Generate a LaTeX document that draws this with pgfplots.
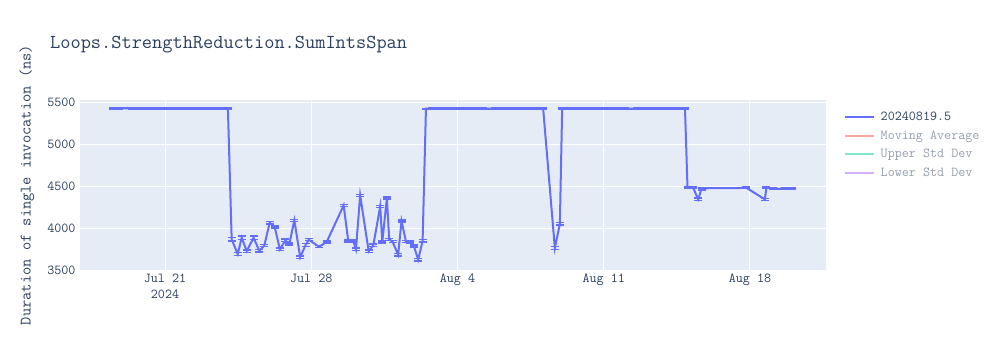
\documentclass[border=0pt]{standalone}
\usepackage{pgfplots}
\pgfplotsset{compat=1.18}
\usepackage{pgfplotstable}
\usepackage{fontspec}
\definecolor{plotbg}{HTML}{E5ECF6}
\definecolor{txt}{HTML}{2A3F5F}
\definecolor{fadetxt}{HTML}{959FAF}
\definecolor{main}{HTML}{636EFA}
\definecolor{maF}{HTML}{F7AA9D}
\definecolor{upF}{HTML}{80E6CB}
\definecolor{loF}{HTML}{D5B1FD}

\pgfplotstableread{
x y e
-2.49 5432 5
-2.20 5431 5
-1.90 5433 5
-1.60 5430 5
-1.30 5432 5
-1.00 5431 5
-0.70 5430 5
-0.40 5432 5
-0.10 5431 5
0.20 5430 5
0.50 5432 5
0.80 5431 5
1.10 5430 5
1.40 5431 5
1.70 5432 5
2.00 5430 5
2.30 5431 5
2.60 5432 5
2.85 5431 5
3.01 5429 5
3.19 3867 20
3.48 3691 20
3.67 3886 20
3.91 3727 15
4.24 3886 20
4.51 3731 15
4.75 3790 12
5.01 4066 15
5.25 4014 12
5.50 3747 15
5.76 3855 15
5.95 3811 12
6.19 4094 12
6.47 3652 15
6.73 3799 20
6.88 3862 12
7.37 3778 12
7.74 3835 12
8.55 4273 12
8.77 3847 12
9.01 3847 12
9.14 3747 15
9.34 4393 12
9.75 3723 15
9.97 3795 15
10.30 4261 12
10.40 3835 12
10.62 4361 12
10.73 3867 12
10.89 3839 12
11.16 3683 15
11.32 4086 12
11.53 3843 12
11.72 3835 12
11.91 3787 12
12.12 3623 15
12.33 3847 15
12.49 5428 5
12.80 5430 5
13.10 5431 5
13.40 5430 5
13.70 5432 5
14.00 5431 5
14.30 5430 5
14.60 5431 5
14.90 5432 5
15.20 5430 5
15.50 5428 5
15.80 5431 5
16.10 5430 5
16.40 5429 5
16.70 5431 5
17.00 5430 5
17.30 5431 5
17.60 5430 5
17.90 5431 5
18.10 5430 5
18.66 3763 15
18.90 4050 15
19.01 5430 5
19.30 5431 5
19.60 5430 5
19.90 5431 5
20.20 5430 5
20.50 5431 5
20.80 5432 5
21.10 5430 5
21.40 5431 5
21.70 5430 5
22.00 5431 5
22.30 5428 5
22.60 5430 5
22.90 5431 5
23.20 5430 5
23.50 5432 5
23.80 5431 5
24.10 5430 5
24.40 5431 5
24.70 5430 5
24.89 5431 5
25.01 4484 8
25.28 4484 8
25.52 4345 15
25.68 4468 10
26.00 4478 5
26.30 4479 5
26.60 4480 5
26.90 4478 5
27.20 4479 5
27.50 4480 5
27.83 4482 8
28.71 4345 12
28.79 4484 8
29.10 4476 5
29.40 4470 5
29.70 4476 5
29.99 4475 5
}\maindata

\begin{document}
\begin{tikzpicture}
\useasboundingbox (0,0) rectangle (1000bp,350bp);
\node[anchor=west, text=txt, font=\ttfamily\fontsize{19.8bp}{22bp}\selectfont, inner sep=0pt] at (50bp,305bp) {Loops.StrengthReduction.SumIntsSpan};
\begin{axis}[
  at={(80bp,80bp)}, anchor=south west,
  scale only axis, width=746bp, height=170bp,
  xmin=-4.07, xmax=31.64, ymin=3500, ymax=5532,
  axis background/.style={fill=plotbg},
  axis line style={draw=none},
  major tick length=0pt,
  grid=major, grid style={white, line width=1bp},
  xtick={0,7,14,21,28},
  xticklabels={{Jul 21\\2024},{Jul 28},{Aug 4},{Aug 11},{Aug 18}},
  ytick={3500,4000,4500,5000,5500},
  /pgf/number format/fixed,
  /pgf/number format/set thousands separator={},
  /pgf/number format/assume math mode=true,
  xticklabel style={align=center, text=txt, font=\ttfamily\fontsize{13.7bp}{16bp}\selectfont, yshift=0bp},
  yticklabel style={text=txt, font=\ttfamily\fontsize{13.7bp}{16bp}\selectfont, xshift=-1bp},
  ylabel={Duration of single invocation (ns)},
  ylabel style={at={(axis description cs:-0.0711,0.5)}, rotate=0, anchor=center, text=txt, font=\ttfamily\fontsize{16bp}{18bp}\selectfont},
  legend cell align=left,
  legend image code/.code={\draw[#1, line width=2bp] (0bp,0bp) -- (29bp,0bp);},
  legend style={at={(axis description cs:1,1)}, anchor=north west, xshift=18bp, yshift=-10bp, draw=none, fill=none,
    font=\ttfamily\fontsize{13.7bp}{16bp}\selectfont, text=txt, row sep=4.4bp, inner sep=0pt,
    nodes={inner sep=2bp}, column sep=3.5bp},
]
\addplot[main, line width=2bp, error bars/.cd, y dir=both, y explicit,
  error bar style={main, line width=1.5bp}, error mark options={rotate=90, main, line width=1.5bp, mark size=4bp}]
  table[x=x, y=y, y error=e] {\maindata};
\addlegendentry{20240819.5}
\addlegendimage{maF}
\addlegendentry{\textcolor{fadetxt}{Moving Average}}
\addlegendimage{upF}
\addlegendentry{\textcolor{fadetxt}{Upper Std Dev}}
\addlegendimage{loF}
\addlegendentry{\textcolor{fadetxt}{Lower Std Dev}}
\end{axis}
\end{tikzpicture}
\end{document}
